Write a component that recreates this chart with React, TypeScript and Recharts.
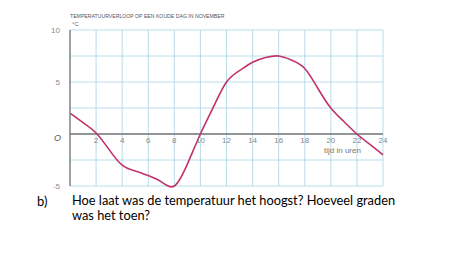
import React from "react";
import {
  LineChart,
  Line,
  XAxis,
  YAxis,
  CartesianGrid,
  ReferenceLine,
} from "recharts";

const hours = [0, 1, 2, 3, 4, 5, 6, 7, 8, 9, 10, 11, 12, 13, 14, 15, 16, 17, 18, 19, 20, 21, 22, 23, 24];
const temperature = [2.0, 1.1, 0.1, -1.5, -3.0, -3.55, -4.0, -4.6, -5.0, -2.9, 0.0, 2.6, 5.0, 6.1, 6.9, 7.35, 7.5, 7.1, 6.3, 4.4, 2.5, 1.2, 0.0, -1.0, -2.0];
const xTicks = [0, 2, 4, 6, 8, 10, 12, 14, 16, 18, 20, 22, 24];
const yTicks = [-5, -2.5, 0, 2.5, 5, 7.5, 10];

const data = hours.map((h, i) => ({ hour: h, temp: temperature[i] }));

const labelFont = "'Liberation Sans', Arial, sans-serif";

// hour labels sit just under the zero line, not under the plot
function HourTick(props: any) {
  const { x, y, payload } = props;
  if (payload.value === 0) return null;
  return (
    <text x={x} y={y - 51} textAnchor="middle" fontSize={8} fill="#888" fontFamily={labelFont}>
      {payload.value}
    </text>
  );
}

function TempTick(props: any) {
  const { x, y, payload } = props;
  const v = payload.value;
  if (v % 5 !== 0) return null;
  const isZero = v === 0;
  return (
    <text
      x={isZero ? x - 1 : x - 2}
      y={isZero ? y + 7 : y + 3}
      textAnchor="end"
      fontSize={isZero ? 9 : 8}
      fontStyle={isZero ? "italic" : "normal"}
      fill={isZero ? "#555" : "#888"}
      fontFamily={labelFont}
    >
      {isZero ? "O" : v}
    </text>
  );
}

export default function App() {
  return (
    <div style={{ position: "absolute", left: 0, top: 0, width: 474, height: 266, background: "#fff", overflow: "hidden" }}>
      <div
        style={{
          position: "absolute",
          left: 70,
          top: 13,
          fontSize: 6,
          color: "#555",
          fontFamily: labelFont,
          whiteSpace: "nowrap",
          transform: "scaleX(0.86)",
          transformOrigin: "left top",
        }}
      >
        TEMPERATUURVERLOOP OP EEN KOUDE DAG IN NOVEMBER
      </div>
      <div style={{ position: "absolute", left: 72, top: 21, fontSize: 6, color: "#666", fontFamily: labelFont }}>°C</div>
      <LineChart width={474} height={266} data={data} margin={{ top: 30, right: 91, bottom: 50, left: 40 }}>
        <CartesianGrid stroke="#a9d3e3" strokeWidth={0.8} />
        <XAxis
          dataKey="hour"
          type="number"
          domain={[0, 24]}
          ticks={xTicks}
          axisLine={false}
          tickLine={false}
          tick={<HourTick />}
          height={30}
          interval={0}
        />
        <YAxis
          type="number"
          domain={[-5, 10]}
          ticks={yTicks}
          axisLine={{ stroke: "#888", strokeWidth: 1.5 }}
          tickLine={false}
          tick={<TempTick />}
          width={30}
          interval={0}
        />
        <ReferenceLine y={0} stroke="#777" strokeWidth={1.3} />
        <Line
          type="natural"
          dataKey="temp"
          stroke="#c2336b"
          strokeWidth={1.6}
          dot={false}
          isAnimationActive={false}
        />
      </LineChart>
      <div style={{ position: "absolute", left: 324, top: 146, fontSize: 8, lineHeight: "9px", color: "#777", fontFamily: labelFont }}>
        tijd in uren
      </div>
      <div style={{ position: "absolute", left: 37, top: 193, fontSize: 13, color: "#000", fontFamily: "Lato, 'Open Sans', sans-serif" }}>b)</div>
      <div
        style={{
          position: "absolute",
          left: 72,
          top: 193,
          fontSize: 12.8,
          lineHeight: "15px",
          color: "#000",
          fontFamily: "Lato, 'Open Sans', sans-serif",
        }}
      >
        Hoe laat was de temperatuur het hoogst? Hoeveel graden
        <br />
        was het toen?
      </div>
    </div>
  );
}
